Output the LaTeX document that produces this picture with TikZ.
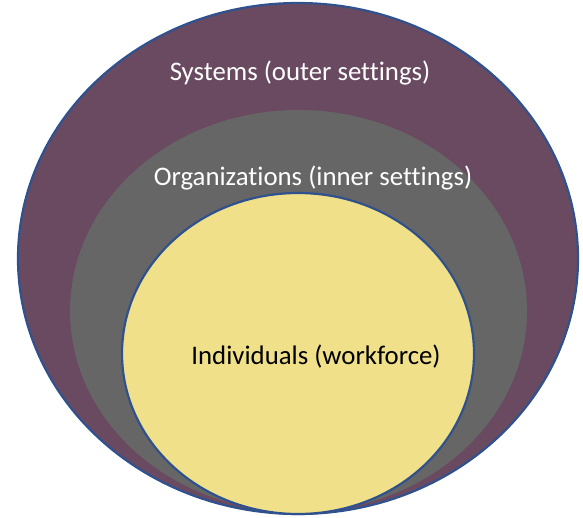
\documentclass[tikz,border=0pt]{standalone}
\usepackage{fontspec}
\setmainfont{Carlito}[Ligatures=NoCommon]
\usetikzlibrary{shapes.geometric}
\definecolor{sysfill}{HTML}{6A4A60}
\definecolor{orgfill}{HTML}{666666}
\definecolor{indfill}{HTML}{F0E08A}
\definecolor{rimblue}{HTML}{2F528F}

\begin{document}
\begin{tikzpicture}[x=1pt,y=-1pt]
\tikzset{layer/.style={ellipse,inner sep=0pt,line width=2.2pt}}
\tikzset{lbl/.style={font=\fontsize{26.8}{30}\selectfont}}
\useasboundingbox (0,0) rectangle (583,517);
\node[layer,fill=sysfill,draw=rimblue,minimum width=560pt,minimum height=511pt] (systems) at (298,258.5) {};
\node[layer,fill=orgfill,minimum width=457pt,minimum height=402pt] (orgs) at (298.5,311) {};
\node[layer,fill=indfill,draw=rimblue,minimum width=352pt,minimum height=321pt] (indiv) at (298,353.5) {};
\node[lbl,text=white] (syslbl) at (300,73) {Systems (outer settings)};
\node[lbl,text=white] (orglbl) at (313,178) {Organizations (inner settings)};
\node[lbl,text=black] (indlbl) at (316,357) {Individuals (workforce)};
\end{tikzpicture}
\end{document}
